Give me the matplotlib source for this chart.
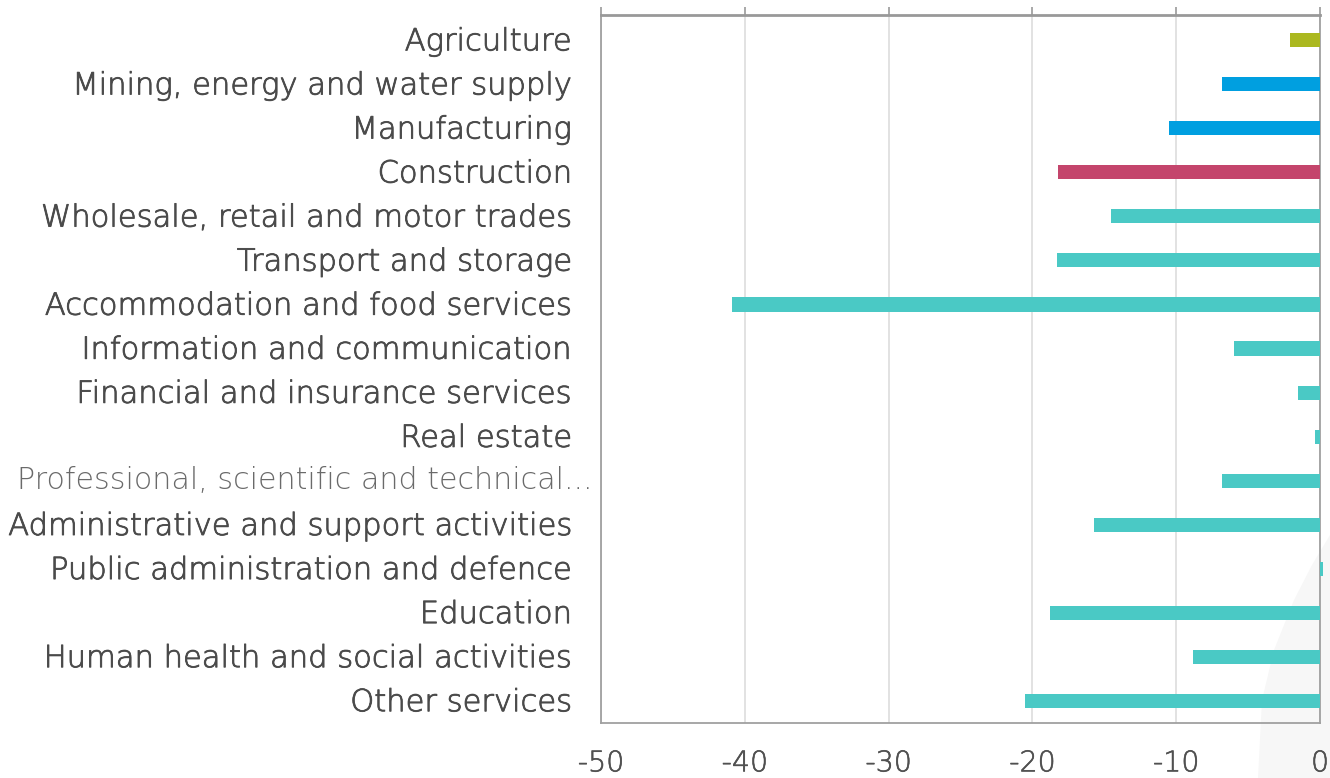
import matplotlib
matplotlib.use("Agg")
import matplotlib.pyplot as plt
import matplotlib.patheffects as pe
from matplotlib.patches import Polygon

categories = [
    "Agriculture",
    "Mining, energy and water supply",
    "Manufacturing",
    "Construction",
    "Wholesale, retail and motor trades",
    "Transport and storage",
    "Accommodation and food services",
    "Information and communication",
    "Financial and insurance services",
    "Real estate",
    "Professional, scientific and technical...",
    "Administrative and support activities",
    "Public administration and defence",
    "Education",
    "Human health and social activities",
    "Other services",
]
values = [-2.1, -6.8, -10.5, -18.2, -14.5, -18.3, -40.9, -6.0,
          -1.5, -0.35, -6.8, -15.7, 0.2, -18.8, -8.85, -20.5]
colors = ["#abb81f", "#009fe0", "#009fe0", "#c4456c"] + ["#4ac9c5"] * 12
x_ticks = [-50, -40, -30, -20, -10, 0]

FONT = "DejaVu Sans"
TEXT = "#4a4a4a"
W, H = 1330, 778

# slightly heavier strokes for the light face
thicken = [pe.withStroke(linewidth=0.6, foreground=TEXT)]

fig = plt.figure(figsize=(W / 100, H / 100), dpi=100)
fig.patch.set_facecolor("white")

# soft decorative wedge in the lower-right corner, behind the plot
corner = [(1258, 778), (1262, 700), (1274, 650), (1294, 600), (1312, 565),
          (1330, 535), (1330, 778)]
wedge = Polygon([(px / W, 1 - py / H) for px, py in corner], closed=True,
                transform=fig.transFigure, facecolor="#f7f7f7",
                edgecolor="none", zorder=0)
fig.patches.append(wedge)

ax = fig.add_axes([601 / W, 1 - 723 / H, (1320 - 601) / W, (723 - 15) / H])
ax.set_zorder(2)
ax.patch.set_alpha(0)

y = list(range(len(categories)))
ax.barh(y, values, height=0.32, color=colors, zorder=3, clip_on=False)

ax.set_xlim(-50, 0)
ax.set_ylim(len(categories) - 0.5, -0.57)
ax.set_xticks(x_ticks)
ax.set_xticklabels([str(t) for t in x_ticks], fontsize=20.5, color="#505050",
                   family=FONT, fontweight="light")
for lbl in ax.get_xticklabels():
    lbl.set_path_effects([pe.withStroke(linewidth=0.4, foreground="#505050")])
ax.tick_params(axis="x", which="both", bottom=False, top=True, length=6,
               width=1.2, color="#999999", pad=13)
ax.xaxis.grid(True, color="#dddddd", linewidth=1.2, zorder=0)
ax.set_axisbelow(True)

ax.set_yticks(y)
ax.set_yticklabels([])
ax.tick_params(axis="y", length=0)

for i, name in enumerate(categories):
    if name.startswith("Professional"):
        ax.annotate(name, xy=(0, i), xycoords=("axes fraction", "data"),
                    xytext=(-6, 0), textcoords="offset points", ha="right",
                    va="center", fontsize=21.7, color="#6a6a6a", family=FONT,
                    fontweight="light")
    else:
        ax.annotate(name, xy=(0.0, i + 0.04), xycoords=("axes fraction", "data"),
                    xytext=(-21, 0), textcoords="offset points", ha="right",
                    va="center", fontsize=22, color=TEXT, family=FONT,
                    fontweight="light", path_effects=thicken)

for side in ["left", "right", "bottom"]:
    ax.spines[side].set_color("#a0a0a0")
    ax.spines[side].set_linewidth(1.3)
ax.spines["top"].set_color("#999999")
ax.spines["top"].set_linewidth(2.0)

fig.savefig("out.png", dpi=100)
